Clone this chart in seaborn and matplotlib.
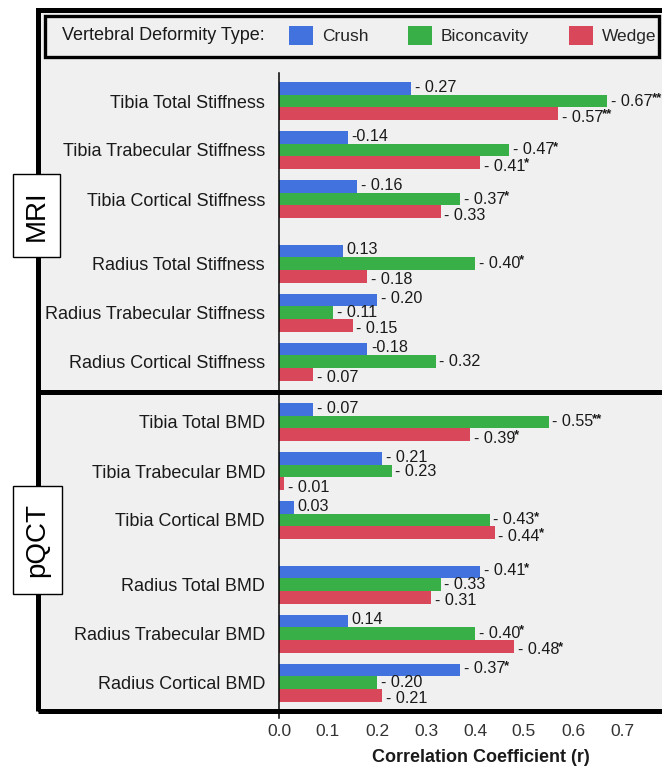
import numpy as np
import pandas as pd
import matplotlib
matplotlib.use("Agg")
import matplotlib.pyplot as plt
import seaborn as sns
from matplotlib.patches import Rectangle
from matplotlib.lines import Line2D

# ---------------- data ----------------
types = ["Crush", "Biconcavity", "Wedge"]
colors = ["#4272DE", "#39B047", "#D8485A"]

mri_measures = ["Tibia Total Stiffness", "Tibia Trabecular Stiffness", "Tibia Cortical Stiffness",
                "Radius Total Stiffness", "Radius Trabecular Stiffness", "Radius Cortical Stiffness"]
mri_crush = [-0.27, -0.14, -0.16, 0.13, -0.20, -0.18]
mri_bicon = [-0.67, -0.47, -0.37, -0.40, -0.11, -0.32]
mri_wedge = [-0.57, -0.41, -0.33, -0.18, -0.15, -0.07]
mri_crush_sig = ["", "", "", "", "", ""]
mri_bicon_sig = ["**", "*", "*", "*", "", ""]
mri_wedge_sig = ["**", "*", "", "", "", ""]

pqct_measures = ["Tibia Total BMD", "Tibia Trabecular BMD", "Tibia Cortical BMD",
                 "Radius Total BMD", "Radius Trabecular BMD", "Radius Cortical BMD"]
pqct_crush = [-0.07, -0.21, 0.03, -0.41, 0.14, -0.37]
pqct_bicon = [-0.55, -0.23, -0.43, -0.33, -0.40, -0.20]
pqct_wedge = [-0.39, -0.01, -0.44, -0.31, -0.48, -0.21]
pqct_crush_sig = ["", "", "", "*", "", "*"]
pqct_bicon_sig = ["**", "", "*", "", "*", ""]
pqct_wedge_sig = ["*", "", "*", "", "*", ""]

# labels printed without a space after the minus sign
compact_labels = {("MRI", "Crush", 1), ("MRI", "Crush", 5)}

xticks = [0.0, 0.1, 0.2, 0.3, 0.4, 0.5, 0.6, 0.7]

# ---------------- layout ----------------
W, H = 662, 771
PXX = 490.0   # px per unit r
PXY = 49.0    # px per group unit
group_pos = np.array([0, 1, 2, 3.32, 4.32, 5.32])

sns.set_theme(style="white")
plt.rcParams["font.family"] = ["Liberation Sans", "DejaVu Sans"]

fig = plt.figure(figsize=(W / 100, H / 100), dpi=100)
fig.patch.set_facecolor("white")


def fx(px):
    return px / W


def fy(py):
    return 1 - py / H


AX_L = 279
ax1 = fig.add_axes([fx(AX_L), fy(391), 1 - fx(AX_L), (391 - 73) / H])
ax2 = fig.add_axes([fx(AX_L), fy(718), 1 - fx(AX_L), (718 - 391) / H])


def build(name, measures, crush, bicon, wedge):
    rows = []
    for t, vals in zip(types, [crush, bicon, wedge]):
        for i, (m, v) in enumerate(zip(measures, vals)):
            rows.append(dict(measure=m, pos=group_pos[i], type=t, r=v, absr=abs(v)))
    return pd.DataFrame(rows)


def panel(ax, name, measures, crush, bicon, wedge, sigs, top_px, bot_px, c0_px, legend):
    df = build(name, measures, crush, bicon, wedge)
    sns.barplot(data=df, x="absr", y="pos", hue="type", hue_order=types, palette=colors,
                orient="y", native_scale=True, width=0.77, saturation=1, errorbar=None,
                linewidth=0, ax=ax, legend=legend)
    ax.set_facecolor("none")
    ax.set_xlim(0, (W - AX_L) / PXX)
    ax.set_ylim((bot_px - c0_px) / PXY, (top_px - c0_px) / PXY)
    ax.set_yticks(group_pos, labels=measures)
    ax.set_xlabel("")
    ax.set_ylabel("")
    for s in ["top", "right", "bottom"]:
        ax.spines[s].set_visible(False)
    ax.spines["left"].set_linewidth(1.1)
    ax.spines["left"].set_color("black")
    ax.tick_params(axis="y", length=0, pad=10, labelsize=13, labelcolor="#1a1a1a")

    vals = {t: v for t, v in zip(types, [crush, bicon, wedge])}
    sg = {t: s for t, s in zip(types, sigs)}
    dys = {"Crush": 0.8, "Biconcavity": 0.0, "Wedge": -2.6}
    for t, cont in zip(types, ax.containers):
        for p in cont:
            yc = p.get_y() + p.get_height() / 2
            gi = int(np.argmin(np.abs(group_pos - yc)))
            v = vals[t][gi]
            if v < 0:
                lab = ("-" if (name, t, gi) in compact_labels else "- ") + f"{abs(v):.2f}"
            else:
                lab = f"{v:.2f}"
            txt = ax.annotate(lab, xy=(p.get_width(), yc), xytext=(2.6, dys[t]),
                              textcoords="offset points", ha="left", va="center",
                              fontsize=11.6, color="#1a1a1a", annotation_clip=False)
            if sg[t][gi]:
                ax.annotate(sg[t][gi], xy=(1, 1), xycoords=txt, xytext=(-0.8, 1.2),
                            textcoords="offset points", ha="left", va="top",
                            fontsize=9.5, fontweight="bold", color="#1a1a1a",
                            annotation_clip=False)


panel(ax1, "MRI", mri_measures, mri_crush, mri_bicon, mri_wedge,
      [mri_crush_sig, mri_bicon_sig, mri_wedge_sig], 73, 391, 101, True)
panel(ax2, "pQCT", pqct_measures, pqct_crush, pqct_bicon, pqct_wedge,
      [pqct_crush_sig, pqct_bicon_sig, pqct_wedge_sig], 391, 718, 422, False)

ax1.set_xticks([])
ax2.set_xticks(xticks, labels=[f"{t:.1f}" for t in xticks])
ax2.tick_params(axis="x", length=0, pad=4, labelsize=12.5, labelcolor="#333333")

# legend
sns.move_legend(ax1, "center left", bbox_to_anchor=(fx(289), fy(35.5)),
                bbox_transform=fig.transFigure, ncol=3, frameon=False, title=None,
                handlelength=1.38, handleheight=1.27, handletextpad=0.5,
                columnspacing=2.3, borderaxespad=0, borderpad=0, fontsize=12.5)
fig.text(fx(62), fy(35.5), "Vertebral Deformity Type:", ha="left", va="center",
         fontsize=13, color="#1a1a1a")

# backgrounds and frames
fig.add_artist(Rectangle((fx(37), fy(711)), 1.0, (711 - 10) / H, transform=fig.transFigure,
                         facecolor="#f0f0f0", edgecolor="none", zorder=-10))
fig.add_artist(Rectangle((fx(37.5), fy(710.5)), fx(700) - fx(37.5), (710.5 - 9.5) / H,
                         transform=fig.transFigure, fill=False, edgecolor="black",
                         linewidth=3.6, zorder=5, clip_on=False))
fig.add_artist(Line2D([fx(37.5), fx(700)], [fy(391.5), fy(391.5)], transform=fig.transFigure,
                      color="black", linewidth=3.6, zorder=5))
fig.add_artist(Rectangle((fx(45), fy(56.5)), fx(659) - fx(45), (56.5 - 16.5) / H,
                         transform=fig.transFigure, fill=False, edgecolor="black",
                         linewidth=2.4, zorder=5))

# section boxes
for lab, (x0, x1, y0, y1) in [("MRI", (13, 60, 174, 257)), ("pQCT", (13, 62, 486, 594))]:
    fig.add_artist(Rectangle((fx(x0), fy(y1)), fx(x1) - fx(x0), (y1 - y0) / H,
                             transform=fig.transFigure, facecolor="white",
                             edgecolor="black", linewidth=1.0, zorder=6))
    fig.text(fx((x0 + x1) / 2), fy((y0 + y1) / 2), lab, rotation=90, ha="center",
             va="center", fontsize=20, color="black", zorder=7)

fig.text(fx(481), fy(757), "Correlation Coefficient (r)", ha="center", va="center",
         fontsize=13, fontweight="bold", color="#1a1a1a")

fig.savefig("out.png", dpi=100)
